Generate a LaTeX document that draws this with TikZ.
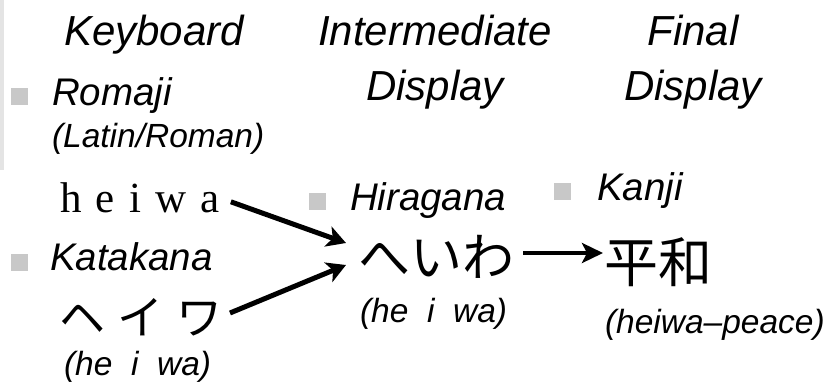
\documentclass[tikz,border=0pt]{standalone}
\usepackage{fontspec}
\setmainfont{Liberation Sans}
\newfontfamily\serifjp{Liberation Serif}
\newfontfamily\cjk{Noto Sans CJK JP}
\usetikzlibrary{arrows.meta,calc}
\definecolor{bulletgray}{HTML}{C8C8C8}
\definecolor{stripgray}{HTML}{E4E4E4}
\tikzset{
  txt/.style={inner sep=0pt, outer sep=0pt},
  head/.style={txt, font=\fontsize{42}{44}\selectfont\itshape, anchor=base},
  lbl/.style={txt, font=\fontsize{38.5}{40}\selectfont\itshape, anchor=base west},
  sub/.style={txt, font=\fontsize{33.5}{35}\selectfont\itshape, anchor=base west},
  bul/.style={fill=bulletgray, draw=none, minimum size=17pt, inner sep=0pt},
  arr/.style={line width=5pt, -{Stealth[length=19pt,width=21pt,inset=5pt]}},
  arrthin/.style={line width=4pt, -{Stealth[length=21pt,width=20pt,inset=5pt]}},
}
\begin{document}
\begin{tikzpicture}[x=1pt,y=-1pt]
\useasboundingbox (0,0) rectangle (837,388);
\fill[stripgray] (0,0) rectangle (4,170);
% headings
\node[head, anchor=base west] (kb) at (64,45) {Keyboard};
\node[head] (im1) at (435,45) {Intermediate};
\node[head] (im2) at (435,100) {Display};
\node[head] (fd1) at (693,45) {Final};
\node[head] (fd2) at (693,100) {Display};
% Romaji
\node[bul] (b1) at (19.5,96) {};
\node[lbl] (romaji) at (52,105) {Romaji};
\node[sub] (latin) at (52,147) {(Latin/Roman)};
\node[txt, font=\serifjp\fontsize{43}{45}\selectfont, anchor=base west] (heiwa) at (60,212) {h\hspace{14.3pt}e\hspace{14.3pt}i\hspace{14.3pt}w\hspace{14.3pt}a};
% Katakana
\node[bul] (b2) at (19,262) {};
\node[lbl] (kata) at (50,270) {Katakana};
\node[txt, font=\cjk\fontsize{46}{48}\selectfont] (kk) at (141,317) {ヘ\hspace{13pt}イ\hspace{13pt}ワ};
\node[sub] (kkr) at (64,375) {(he\ \ i\ \ wa)};
% Hiragana
\node[bul] (b3) at (317,201) {};
\node[lbl] (hira) at (350,210) {Hiragana};
\node[txt, font=\cjk\fontsize{52}{54}\selectfont] (hh) at (436,257) {へいわ};
\node[sub] (hhr) at (360,322) {(he\ \ i\ \ wa)};
% Kanji
\node[bul] (b4) at (562.5,191) {};
\node[lbl] (kanji) at (597,200) {Kanji};
\node[txt, font=\cjk\fontsize{54}{56}\selectfont] (kj) at (658,262) {平和};
\node[sub] (kjr) at (605,333) {(heiwa–peace)};
% arrows
\draw[arr] ($(heiwa.east)+(11,4.5)$) -- ($(hh.west)+(-12,-14)$);
\draw[arr] ($(kk.east)+(7,-4)$) -- ($(hh.west)+(-12,8)$);
\draw[arrthin] ($(hh.east)+(9,-4)$) -- ($(kj.west)+(-1,-9)$);
\end{tikzpicture}
\end{document}
